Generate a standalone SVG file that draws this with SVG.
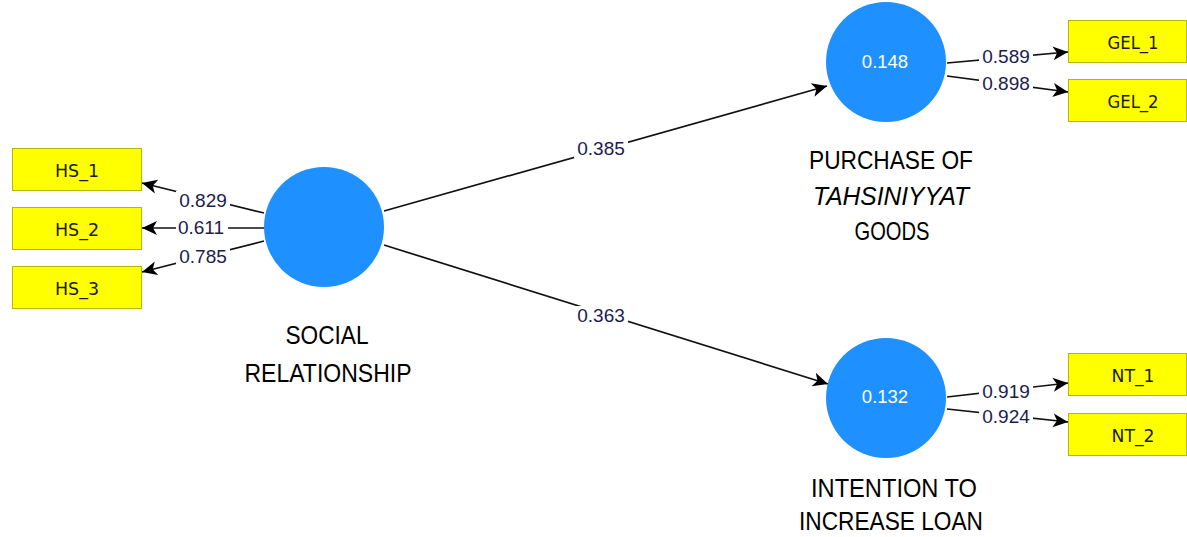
<svg xmlns="http://www.w3.org/2000/svg" width="1187" height="537" viewBox="0 0 1187 537">
<defs>
<marker id="arr" markerUnits="userSpaceOnUse" markerWidth="18" markerHeight="16" refX="15" refY="8" orient="auto">
<path d="M0,1 L15,8 L0,15 L4,8 z" fill="#000"/>
</marker>
<style>
.lv{fill:#1E90FF;}
.ind{fill:#FFFF00;stroke:#b8b800;stroke-width:1;}
.it{font-family:"DejaVu Sans","Liberation Sans",sans-serif;font-size:18.5px;fill:#1a1a1a;text-anchor:middle;}
.cv{font-family:"Liberation Sans",Arial,sans-serif;font-size:18.5px;fill:#fff;text-anchor:middle;}
.lab{font-family:"Liberation Sans",Arial,sans-serif;font-size:25.5px;fill:#000;text-anchor:middle;}
.ln{stroke:#111;stroke-width:1.7;fill:none;marker-end:url(#arr);}
.w{font-family:"Liberation Sans",Arial,sans-serif;font-size:19px;fill:#1c1c50;text-anchor:middle;}
.bg{fill:#fff;}
</style>
</defs>
<rect width="1187" height="537" fill="#fff"/>
<g id="connectors">
<line class="ln" x1="264" y1="213" x2="142" y2="183"/>
<line class="ln" x1="264" y1="228" x2="142" y2="228"/>
<line class="ln" x1="264" y1="241" x2="142" y2="272"/>
<line class="ln" x1="384" y1="211" x2="827" y2="86"/>
<line class="ln" x1="384" y1="245" x2="828" y2="384"/>
<line class="ln" x1="947" y1="63" x2="1068" y2="52"/>
<line class="ln" x1="947" y1="76" x2="1068" y2="92"/>
<line class="ln" x1="947" y1="397" x2="1068" y2="383"/>
<line class="ln" x1="947" y1="409" x2="1068" y2="422"/>
<rect class="bg" x="176" y="191" width="54" height="19"/>
<text class="w" x="203" y="207">0.829</text>
<rect class="bg" x="176" y="218" width="52" height="19"/>
<text class="w" x="201" y="234">0.611</text>
<rect class="bg" x="176" y="247" width="54" height="19"/>
<text class="w" x="203" y="263">0.785</text>
<rect class="bg" x="574" y="139" width="54" height="19"/>
<text class="w" x="601" y="155">0.385</text>
<rect class="bg" x="574" y="306" width="54" height="19"/>
<text class="w" x="601" y="322">0.363</text>
<rect class="bg" x="979" y="47" width="54" height="19"/>
<text class="w" x="1006" y="63">0.589</text>
<rect class="bg" x="979" y="74" width="54" height="19"/>
<text class="w" x="1006" y="90">0.898</text>
<rect class="bg" x="979" y="382" width="54" height="19"/>
<text class="w" x="1006" y="398">0.919</text>
<rect class="bg" x="979" y="407" width="54" height="19"/>
<text class="w" x="1006" y="423">0.924</text>
</g>
<g id="social">
<circle class="lv" cx="324" cy="227" r="60"/>
<text class="lab" x="327" y="344" textLength="83" lengthAdjust="spacingAndGlyphs">SOCIAL</text>
<text class="lab" x="328" y="382" textLength="167" lengthAdjust="spacingAndGlyphs">RELATIONSHIP</text>
</g>
<g id="purchase">
<circle class="lv" cx="886" cy="62" r="60"/>
<text class="cv" x="885" y="68">0.148</text>
<text class="lab" x="891" y="169" textLength="164" lengthAdjust="spacingAndGlyphs">PURCHASE OF</text>
<text class="lab" x="891" y="205" font-style="italic" textLength="156" lengthAdjust="spacingAndGlyphs">TAHSINIYYAT</text>
<text class="lab" x="892" y="240" textLength="75" lengthAdjust="spacingAndGlyphs">GOODS</text>
</g>
<g id="intention">
<circle class="lv" cx="886" cy="398" r="60"/>
<text class="cv" x="885" y="403">0.132</text>
<text class="lab" x="894" y="497" textLength="166" lengthAdjust="spacingAndGlyphs">INTENTION TO</text>
<text class="lab" x="891" y="530" textLength="184" lengthAdjust="spacingAndGlyphs">INCREASE LOAN</text>
</g>
<g id="hs1"><rect class="ind" x="12.5" y="148.5" width="129" height="42"/><text class="it" x="77" y="177" textLength="44" lengthAdjust="spacingAndGlyphs">HS_1</text></g>
<g id="hs2"><rect class="ind" x="12.5" y="207.5" width="129" height="42"/><text class="it" x="77" y="236" textLength="44" lengthAdjust="spacingAndGlyphs">HS_2</text></g>
<g id="hs3"><rect class="ind" x="12.5" y="266.5" width="129" height="42"/><text class="it" x="77" y="295" textLength="44" lengthAdjust="spacingAndGlyphs">HS_3</text></g>
<g id="gel1"><rect class="ind" x="1068.5" y="20.5" width="118" height="42"/><text class="it" x="1133" y="49" textLength="51" lengthAdjust="spacingAndGlyphs">GEL_1</text></g>
<g id="gel2"><rect class="ind" x="1068.5" y="79.5" width="118" height="42"/><text class="it" x="1133" y="108" textLength="51" lengthAdjust="spacingAndGlyphs">GEL_2</text></g>
<g id="nt1"><rect class="ind" x="1068.5" y="353.5" width="118" height="42"/><text class="it" x="1133" y="382" textLength="43" lengthAdjust="spacingAndGlyphs">NT_1</text></g>
<g id="nt2"><rect class="ind" x="1068.5" y="413.5" width="118" height="42"/><text class="it" x="1133" y="442" textLength="43" lengthAdjust="spacingAndGlyphs">NT_2</text></g>
</svg>
